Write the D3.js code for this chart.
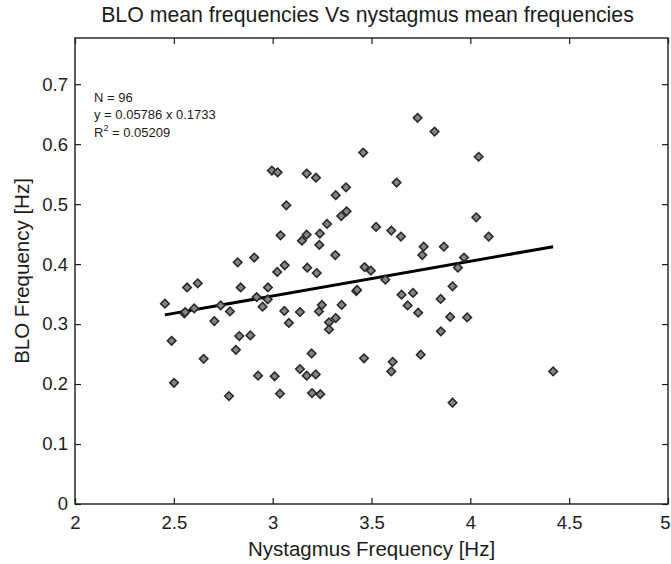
<!DOCTYPE html>
<html>
<head>
<meta charset="utf-8">
<script src="https://cdn.jsdelivr.net/npm/d3@7"></script>
<style>
  body { margin: 0; background: #fff; }
  svg { display: block; font-family: "Liberation Sans", Arial, sans-serif; }
</style>
</head>
<body>
<div id="chart"></div>
<script>
// nystagmus mean frequency (Hz) per subject
const nystagmusHz = [
  3.733, 3.819, 3.458, 4.042, 2.996, 3.025, 3.172, 3.219, 3.627, 3.371,
  3.319, 3.069, 3.374, 3.347, 4.030, 3.275, 3.523, 3.600, 3.239, 3.172,
  3.040, 3.649, 4.093, 3.148, 3.236, 3.764, 3.866, 2.455, 2.567, 2.621,
  2.823, 2.907, 3.061, 3.023, 2.838, 2.976, 2.919, 2.975, 2.949, 2.737,
  2.603, 2.553, 2.784, 3.059, 3.138, 2.705, 3.082, 2.489, 2.831, 2.887,
  2.814, 2.651, 2.501, 2.926, 3.010, 3.138, 2.779, 3.037, 3.317, 3.175,
  3.223, 3.465, 3.497, 3.570, 3.757, 3.968, 3.937, 3.910, 3.423, 3.652,
  3.710, 3.683, 3.736, 3.850, 3.898, 3.984, 3.851, 3.249, 3.234, 3.349,
  3.319, 3.285, 3.285, 3.197, 3.462, 3.749, 3.607, 3.600, 3.172, 3.218,
  3.199, 3.241, 3.910, 4.419, 3.427, 2.557
];
// BLO mean frequency (Hz), same order
const bloHz = [
  0.644, 0.621, 0.586, 0.579, 0.556, 0.553, 0.551, 0.544, 0.536, 0.528,
  0.515, 0.498, 0.488, 0.480, 0.478, 0.467, 0.462, 0.456, 0.451, 0.449,
  0.448, 0.446, 0.446, 0.439, 0.432, 0.429, 0.429, 0.334, 0.361, 0.368,
  0.403, 0.411, 0.398, 0.387, 0.361, 0.361, 0.345, 0.341, 0.329, 0.331,
  0.326, 0.318, 0.321, 0.322, 0.320, 0.305, 0.302, 0.272, 0.280, 0.281,
  0.257, 0.242, 0.202, 0.214, 0.213, 0.225, 0.180, 0.184, 0.415, 0.394,
  0.385, 0.395, 0.389, 0.374, 0.415, 0.411, 0.394, 0.363, 0.355, 0.349,
  0.352, 0.331, 0.319, 0.342, 0.312, 0.311, 0.288, 0.332, 0.321, 0.332,
  0.310, 0.303, 0.291, 0.251, 0.243, 0.249, 0.237, 0.221, 0.214, 0.216,
  0.185, 0.183, 0.169, 0.221, 0.357, 0.320
];

// linear fit printed on the figure
const fitSlope = 0.05786;
const fitIntercept = 0.1733;
const statLines = ["N = 96", "y = 0.05786 x 0.1733"];
const rSquared = "0.05209";

const xTicks = [2, 2.5, 3, 3.5, 4, 4.5, 5];
const yTicks = [0, 0.1, 0.2, 0.3, 0.4, 0.5, 0.6, 0.7];

const width = 671, height = 564;
const margin = { top: 38, right: 3, bottom: 60, left: 75 };
const iw = width - margin.left - margin.right;
const ih = height - margin.top - margin.bottom;
const ink = "#1c1c1c";

const svg = d3.select("#chart").append("svg")
  .attr("width", width)
  .attr("height", height);

const g = svg.append("g")
  .attr("transform", `translate(${margin.left},${margin.top})`);

const x = d3.scaleLinear().domain([2, 5]).range([0, iw]);
const y = d3.scaleLinear().domain([0, 0.777]).range([ih, 0]);

const fmt = d => String(d);

// axes, MATLAB style: inward ticks on all four sides
const axisStyle = sel => {
  sel.select(".domain").remove();
  sel.selectAll("line").attr("stroke", ink).attr("stroke-width", 1.2);
  sel.selectAll("text").attr("fill", ink).style("font-size", "18.5px");
};

const xAxis = g.append("g").attr("transform", `translate(0,${ih})`)
  .call(d3.axisBottom(x).tickValues(xTicks).tickFormat(fmt).tickSizeInner(-6).tickSizeOuter(0).tickPadding(12))
  .call(axisStyle);
// last label sits on the page edge, pull it in a little
xAxis.selectAll(".tick text").filter(d => d === 5).attr("dx", -3);

g.append("g").attr("transform", `translate(0,0)`)
  .call(d3.axisTop(x).tickValues(xTicks).tickFormat("").tickSizeInner(-6).tickSizeOuter(0))
  .call(axisStyle);
g.append("g")
  .call(d3.axisLeft(y).tickValues(yTicks).tickFormat(fmt).tickSizeInner(-6).tickSizeOuter(0).tickPadding(7))
  .call(axisStyle);
g.append("g").attr("transform", `translate(${iw},0)`)
  .call(d3.axisRight(y).tickValues(yTicks).tickFormat("").tickSizeInner(-6).tickSizeOuter(0))
  .call(axisStyle);

// frame
g.append("rect")
  .attr("width", iw).attr("height", ih)
  .attr("fill", "none").attr("stroke", ink).attr("stroke-width", 1.4);

// regression line across the data range
const xr = d3.extent(nystagmusHz);
g.append("line")
  .attr("x1", x(xr[0])).attr("y1", y(fitSlope * xr[0] + fitIntercept))
  .attr("x2", x(xr[1])).attr("y2", y(fitSlope * xr[1] + fitIntercept))
  .attr("stroke", "#000").attr("stroke-width", 3);

// diamonds
const diamond = d3.symbol().type(d3.symbolSquare).size(36);
g.append("g").selectAll("path")
  .data(d3.zip(nystagmusHz, bloHz))
  .join("path")
  .attr("d", diamond)
  .attr("transform", d => `translate(${x(d[0])},${y(d[1])}) rotate(45)`)
  .attr("fill", "#858585")
  .attr("stroke", "#2a2a2a")
  .attr("stroke-width", 1.6);

// stats text
const stats = g.append("text")
  .attr("x", 19).attr("y", 64)
  .attr("fill", ink)
  .style("font-size", "13px");
statLines.forEach((t, i) => {
  stats.append("tspan").attr("x", 19).attr("dy", i === 0 ? 0 : 17).text(t);
});
const r2 = stats.append("tspan").attr("x", 19).attr("dy", 18);
r2.text("R");
stats.append("tspan").attr("dy", -6).style("font-size", "9px").text("2");
stats.append("tspan").attr("dy", 6).text(" = " + rSquared);

// title and labels
svg.append("text")
  .attr("x", margin.left + iw / 2 - 4).attr("y", 22)
  .attr("text-anchor", "middle").attr("fill", ink)
  .style("font-size", "21.3px")
  .text("BLO mean frequencies Vs nystagmus mean frequencies");

svg.append("text")
  .attr("x", margin.left + iw / 2).attr("y", 556)
  .attr("text-anchor", "middle").attr("fill", ink)
  .style("font-size", "20.5px")
  .text("Nystagmus Frequency [Hz]");

svg.append("text")
  .attr("transform", `translate(29,${margin.top + ih / 2}) rotate(-90)`)
  .attr("text-anchor", "middle").attr("fill", ink)
  .style("font-size", "20.5px")
  .text("BLO Frequency [Hz]");
</script>
</body>
</html>
